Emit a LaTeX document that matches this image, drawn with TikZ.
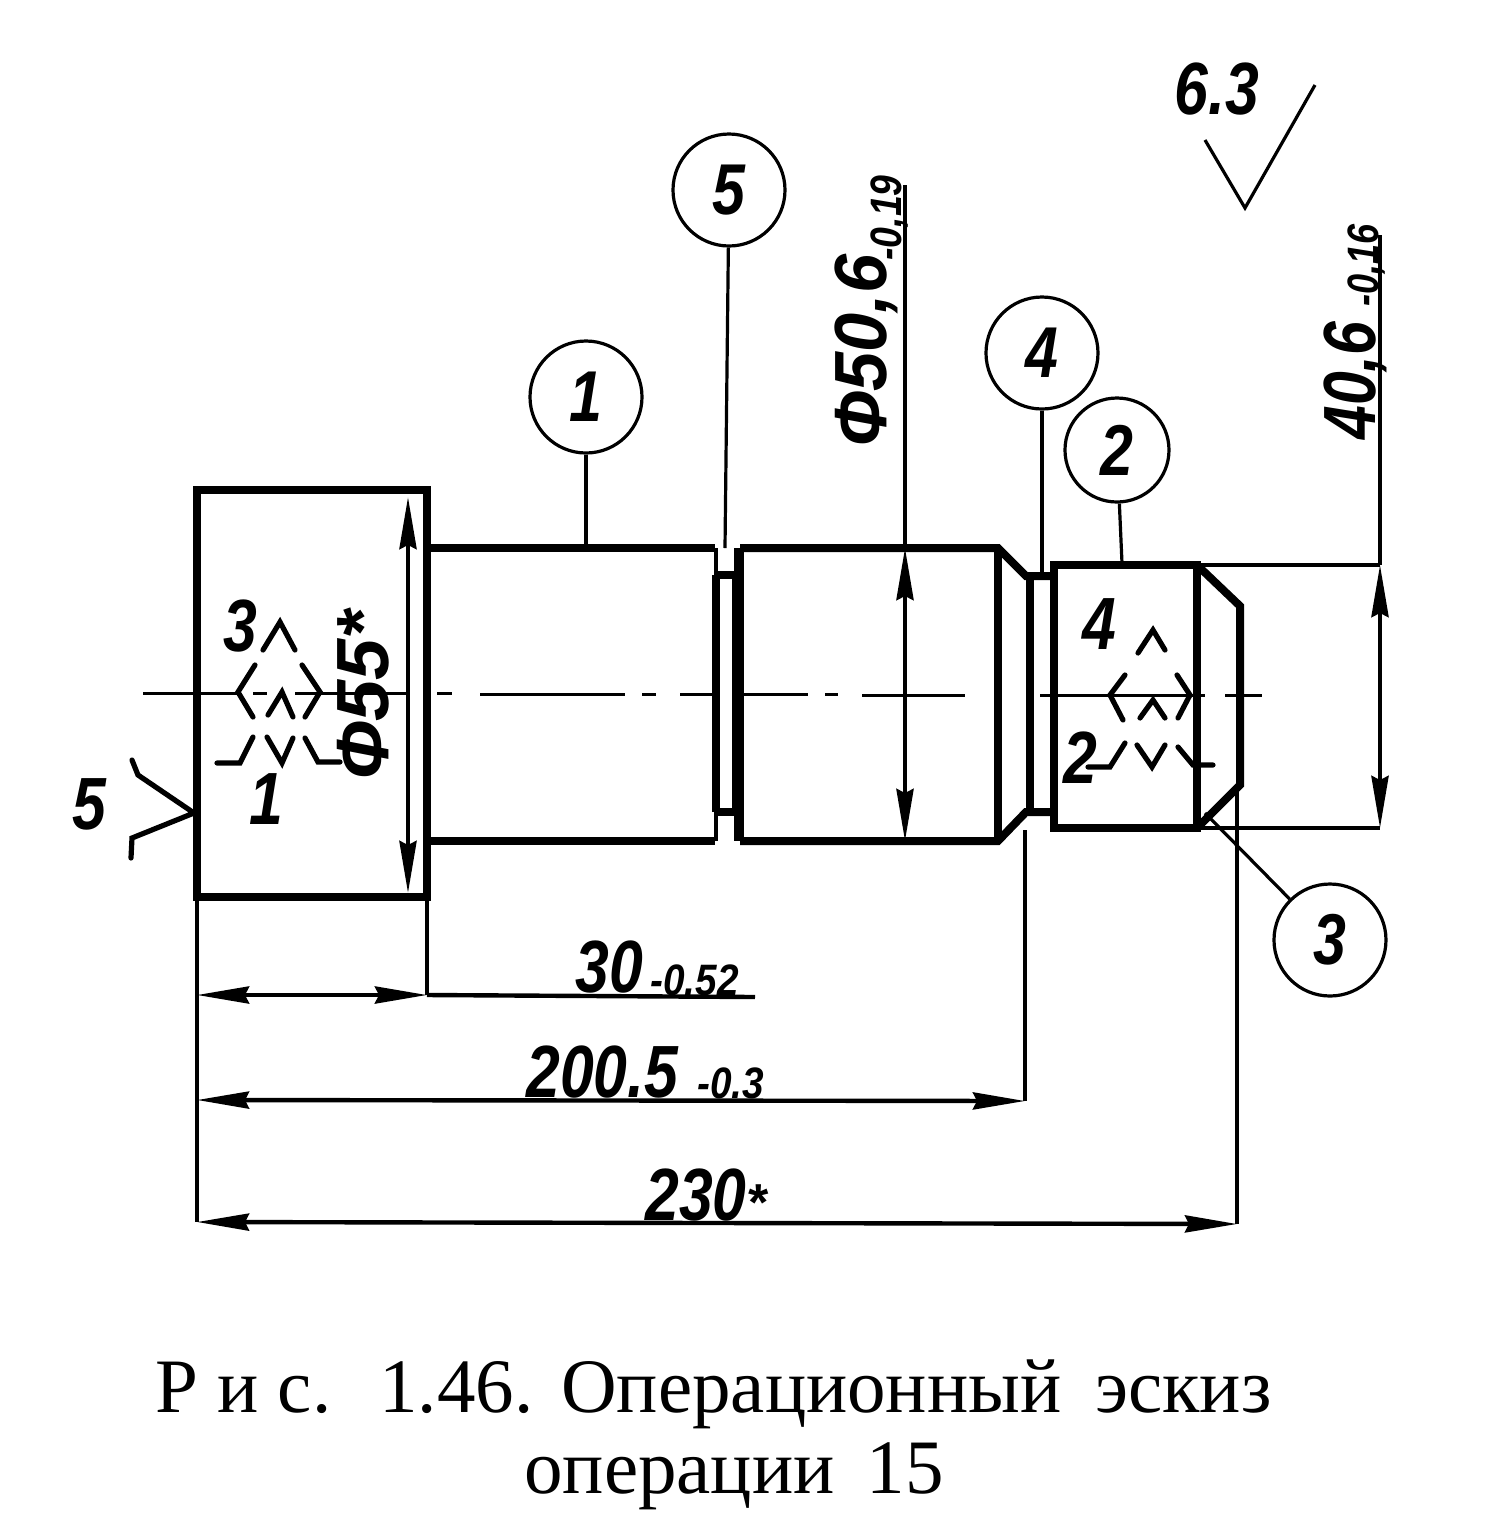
\documentclass[tikz,border=0pt]{standalone}
\usepackage{fontspec}
\usepackage{graphicx}
\setmainfont{Liberation Serif}
\newfontfamily\draftfont{Liberation Sans}
\newcommand{\nrw}[1]{\scalebox{0.82}[1]{#1}}
\usetikzlibrary{arrows.meta}
\tikzset{
  x=0.5pt,y=-0.5pt,
  thickline/.style={line width=4pt,line join=miter,line cap=square},
  midline/.style={line width=2.2pt},
  thinline/.style={line width=1.6pt},
  axisline/.style={line width=1.5pt},
  locmark/.style={line width=2.6pt,line cap=round,line join=miter},
  dimtips/.style={{Stealth[length=26pt,width=8.5pt,inset=2pt]}-{Stealth[length=26pt,width=8.5pt,inset=2pt]}},
  balloon/.style={circle,draw,line width=1.6pt,inner sep=0pt,minimum size=56pt,font=\draftfont\bfseries\itshape\fontsize{36}{38}\selectfont},
  lbl/.style={inner sep=0pt,font=\draftfont\bfseries\itshape\fontsize{37}{39}\selectfont},
  sublbl/.style={inner sep=0pt,font=\draftfont\bfseries\itshape\fontsize{22}{24}\selectfont},
  captext/.style={inner sep=0pt,font=\fontsize{38.5}{40}\selectfont}
}
\begin{document}
\begin{tikzpicture}
\useasboundingbox (0,0) rectangle (1486,1528);
\fill[white] (0,0) rectangle (1486,1528);

% part outline
\draw[thickline] (197,490) rectangle (427,897);
\draw[thickline] (427,548) -- (715,548);
\draw[thickline] (427,841) -- (715,841);
\draw[thickline] (716,575) -- (716,812);
\draw[thickline] (716,575) -- (736,575);
\draw[thickline] (716,812) -- (736,812);
\draw[thickline] (736,575) -- (736,812);
\draw[thickline] (740,548) -- (998,548) -- (1026,576) -- (1054,576);
\draw[thickline] (740,841) -- (998,841) -- (1026,812) -- (1054,812);
\draw[thickline] (740,548) -- (740,841);
\draw[thickline] (998,548) -- (998,841);
\draw[thickline] (1030,576) -- (1030,812);
\draw[thickline] (1054,565) rectangle (1197,828);
\draw[thickline] (1197,565) -- (1240,606) -- (1240,785) -- (1197,828);

% small notches above and below groove 5
\draw[midline] (716,548) -- (716,575);
\draw[midline] (736,548) -- (736,575);
\draw[midline] (716,812) -- (716,841);
\draw[midline] (736,812) -- (736,841);

% axis
\draw[axisline] (143,693) -- (240,693);
\draw[axisline] (253,693) -- (267,693);
\draw[axisline] (295,693) -- (408,693);
\draw[axisline] (437,693) -- (452,693);
\draw[axisline] (480,694) -- (625,694);
\draw[axisline] (642,694) -- (656,694);
\draw[axisline] (680,694) -- (716,694);
\draw[axisline] (738,694) -- (808,694);
\draw[axisline] (825,694) -- (838,694);
\draw[axisline] (862,695) -- (965,695);
\draw[axisline] (1040,695) -- (1205,695);
\draw[axisline] (1225,695) -- (1262,695);

% coordinates for dimensions
\coordinate (headTL) at (197,897);
\coordinate (headTR) at (427,897);
\coordinate (a30L) at (197,995);
\coordinate (a30R) at (427,995);
\coordinate (a30E) at (755,997);
\coordinate (b200L) at (197,1100);
\coordinate (b200R) at (1025,1101);
\coordinate (c230L) at (197,1222);
\coordinate (c230R) at (1237,1224);
\coordinate (stepB) at (1025,830);
\coordinate (chamB) at (1237,790);

% extension lines
\draw[thinline] (headTL) -- (c230L);
\draw[thinline] (headTR) -- (a30R);
\draw[thinline] (stepB) -- (b200R);
\draw[thinline] (chamB) -- (c230R);

% horizontal dimensions
\draw[midline,dimtips] (a30L) -- (a30R);
\draw[midline] (a30R) -- (a30E);
\draw[midline,dimtips] (b200L) -- (b200R);
\draw[midline,dimtips] (c230L) -- (c230R);

% vertical dimensions
\draw[midline,dimtips] (408,497) -- (408,893);
\draw[midline,dimtips] (905,548) -- (905,841);
\draw[midline] (905,548) -- (905,185);
\draw[thinline] (1197,565) -- (1380,565);
\draw[midline] (1197,828) -- (1380,828);
\draw[midline,dimtips] (1380,565) -- (1380,828);
\draw[midline] (1380,565) -- (1380,235);

% balloons and leaders
\node[balloon] (b5) at (729,190) {\nrw{5}};
\node[balloon] (b1) at (586,397) {\nrw{1}};
\node[balloon] (b4) at (1042,353) {\nrw{4}};
\node[balloon,minimum size=52pt] (b2) at (1117,450) {\nrw{2}};
\node[balloon] (b3) at (1330,940) {\nrw{3}};
\coordinate (t5) at (725,548);
\coordinate (t1) at (586,546);
\coordinate (t4) at (1042,576);
\coordinate (t2) at (1122,563);
\coordinate (t3) at (1205,813);
\draw[thinline] (b5) -- (t5);
\draw[thinline] (b1) -- (t1);
\draw[thinline] (b4) -- (t4);
\draw[thinline] (b2) -- (t2);
\draw[thinline] (b3) -- (t3);

% locating marks, head
\draw[locmark] (263,650) -- (280,622) -- (295,650);
\draw[locmark] (255,665) -- (238,692) -- (253,717);
\draw[locmark] (302,665) -- (320,692) -- (305,717);
\draw[locmark] (268,715) -- (282,692) -- (293,717);
\draw[locmark] (267,737) -- (282,763) -- (293,738);
\draw[locmark] (253,737) -- (240,763) -- (217,763);
\draw[locmark] (305,738) -- (318,762) -- (340,762);

% locating marks, end
\draw[locmark] (1138,653) -- (1153,630) -- (1165,650);
\draw[locmark] (1125,675) -- (1110,695) -- (1123,720);
\draw[locmark] (1177,675) -- (1190,695) -- (1178,718);
\draw[locmark] (1140,718) -- (1153,700) -- (1165,718);
\draw[locmark] (1137,745) -- (1152,767) -- (1165,745);
\draw[locmark] (1125,743) -- (1110,767) -- (1088,767);
\draw[locmark] (1178,747) -- (1193,765) -- (1213,765);

% roughness signs
\draw[locmark] (132,760) -- (138,775) -- (194,813) -- (132,838) -- (131,858);
\draw[thinline] (1205,140) -- (1245,208) -- (1315,85);

% labels
\node[lbl] (n5) at (89,804) {\nrw{5}};
\node[lbl] (n3a) at (240,626) {\nrw{3}};
\node[lbl] (n1a) at (266,799) {\nrw{1}};
\node[lbl] (n4a) at (1099,624) {\nrw{4}};
\node[lbl] (n2a) at (1080,758) {\nrw{2}};
\node[lbl] (n63) at (1217,89) {\nrw{6.3}};
\node[lbl,rotate=90,anchor=base west] (d55) at (388,780) {Ф55*};
\node[lbl,rotate=90,anchor=base west] (d50) at (886,447) {\scalebox{0.95}[1]{Ф50,6}};
\node[sublbl,rotate=90,anchor=base west] (d50s) at (901,261) {\scalebox{0.85}[1]{-0,19}};
\node[lbl,rotate=90,anchor=base west] (d40) at (1375,440) {\nrw{40,6}};
\node[sublbl,rotate=90,anchor=base west] (d40s) at (1378,307) {\scalebox{0.82}[1]{-0,16}};
\node[lbl,anchor=base west] (d30) at (575,992) {\nrw{30}};
\node[sublbl,anchor=base west] (d30s) at (650,995) {\scalebox{0.88}[1]{-0.52}};
\node[lbl,anchor=base west] (d200) at (526,1097) {\nrw{200.5}};
\node[sublbl,anchor=base west] (d200s) at (697,1098) {\scalebox{0.88}[1]{-0.3}};
\node[lbl,anchor=base west] (d230) at (645,1220) {\nrw{230}{\fontsize{26}{28}\selectfont*}};

% caption
\node[captext,anchor=base west] (c1) at (155,1412) {Р и с.\hspace{24pt}1.46.\hspace{14pt}Операционный\hspace{17pt}эскиз};
\node[captext,anchor=base west] (c2) at (524,1493) {операции\hspace{16pt}15};
\end{tikzpicture}
\end{document}
